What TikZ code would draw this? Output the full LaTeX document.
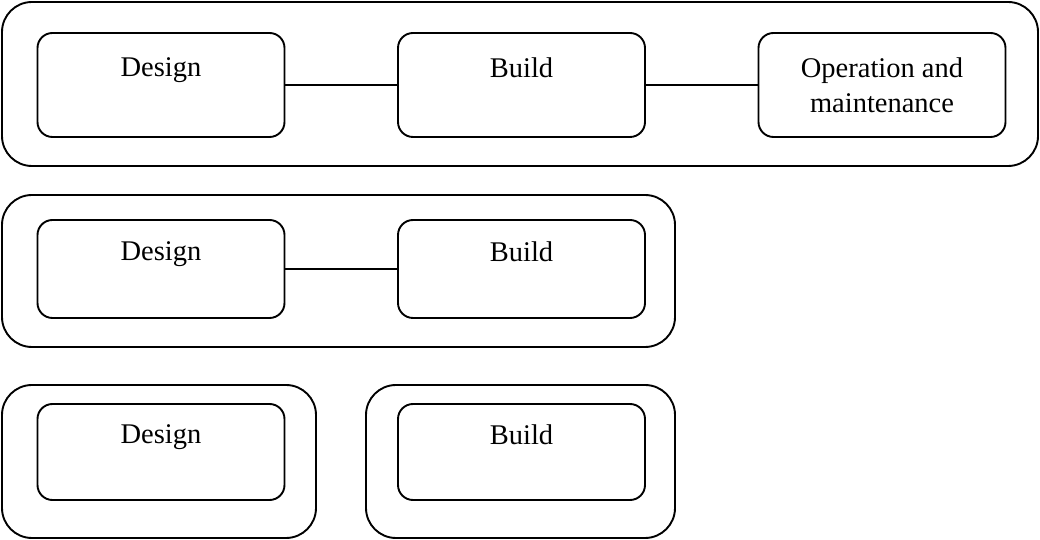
\documentclass[tikz,border=0pt]{standalone}
\usepackage{fontspec}
\setmainfont{Liberation Serif}
\usetikzlibrary{positioning}

% text sits in the upper half of a stage box
\newcommand{\stage}[1]{#1\\\mbox{}}

\begin{document}
\begin{tikzpicture}[x=1pt, y=1pt,
                    every node/.style={draw, line width=1.9pt},
                    phase/.style={rounded corners=15pt, minimum width=247pt,
                                  inner sep=0pt, align=center,
                                  font=\fontsize{28.5}{35}\selectfont},
                    group/.style={rounded corners=30pt},
                    link/.style={line width=1.9pt}]

    \useasboundingbox (0,0) rectangle (1040,540);

    % design, build, operation and maintenance
    \node[group, minimum width=1036pt, minimum height=164pt] (dbo) at (520,456) {};
    \node[phase, minimum height=104pt] (d1) at (161,455) {\stage{Design}};
    \node[phase, minimum height=104pt] (b1) at (521.5,455) {\stage{Build}};
    \node[phase, minimum height=104pt] (o1) at (882,455) {Operation and\\maintenance};
    \draw[link] (d1) -- (b1);
    \draw[link] (b1) -- (o1);

    % design and build
    \node[group, minimum width=673pt, minimum height=152pt] (db) at (338.5,269) {};
    \node[phase, minimum height=98pt] (d2) at (161,271) {\stage{Design}};
    \node[phase, minimum height=98pt] (b2) at (521.5,271) {\stage{Build}};
    \draw[link] (d2) -- (b2);

    % design, then build
    \node[group, minimum width=314pt, minimum height=153pt] (dd) at (159,78.5) {};
    \node[group, minimum width=309pt, minimum height=153pt] (bb) at (520.5,78.5) {};
    \node[phase, minimum height=96pt] (d3) at (161,88) {\stage{Design}};
    \node[phase, minimum height=96pt] (b3) at (521.5,88) {\stage{Build}};
\end{tikzpicture}
\end{document}
